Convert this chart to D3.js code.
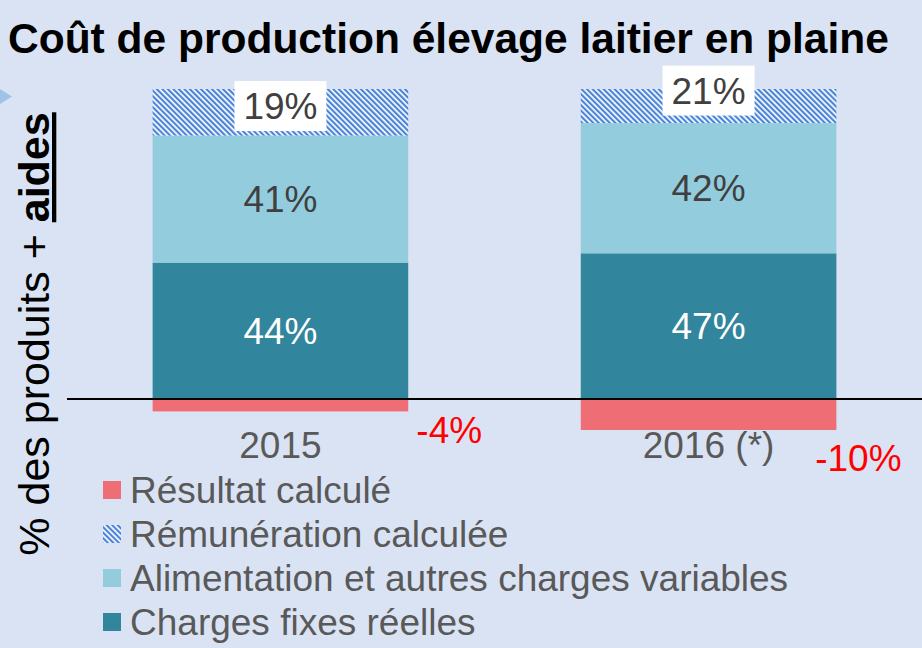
<!DOCTYPE html>
<html>
<head>
<meta charset="utf-8">
<script src="https://cdn.jsdelivr.net/npm/d3@7"></script>
<style>
  body { margin: 0; background: #dae3f3; }
  svg { display: block; font-family: Arial, "Liberation Sans", sans-serif; }
</style>
</head>
<body>
<svg id="chart"></svg>
<script>
// data
let categories = ["2015", "2016 (*)"];
let chargesFixes = [44, 47];
let alimentation = [41, 42];
let remuneration = [19, 21];
let resultat = [-4, -10];

let seriesNames = ["Résultat calculé", "Rémunération calculée", "Alimentation et autres charges variables", "Charges fixes réelles"];

function drawChart() {
    let w = 922, h = 648;
    let svg = d3.select("#chart").attr("width", w).attr("height", h);

    svg.append("rect").attr("width", w).attr("height", h).attr("fill", "#dae3f3");

    let defs = svg.append("defs");
    let pat = defs.append("pattern")
        .attr("id", "hatch")
        .attr("patternUnits", "userSpaceOnUse")
        .attr("width", 3.9).attr("height", 3.9)
        .attr("patternTransform", "rotate(-45)");
    pat.append("rect").attr("width", 3.9).attr("height", 3.9).attr("fill", "#ffffff");
    pat.append("rect").attr("width", 2.2).attr("height", 3.9).attr("fill", "#4a84d8");

    defs.append("clipPath").attr("id", "plotClip")
        .append("rect").attr("x", 0).attr("y", 89).attr("width", w).attr("height", h - 89);

    // title
    svg.append("text")
        .attr("x", 8).attr("y", 53)
        .attr("font-size", 42.5).attr("font-weight", "bold").attr("fill", "#000")
        .text("Coût de production élevage laitier en plaine");

    // small marker top left
    svg.append("path").attr("d", "M0,89 L12,96.5 L0,104 Z").attr("fill", "#9dc3e6");

    let x = d3.scaleBand().domain(categories).range([67, 922])
        .paddingInner(0.403).paddingOuter(0.2);
    let y = d3.scaleLinear().domain([0, 100]).range([399, 89]);

    // stacked segments
    let rows = categories.map((c, i) => ({
        cat: c, fixes: chargesFixes[i], alim: alimentation[i], remu: remuneration[i], res: resultat[i]
    }));
    let stack = d3.stack().keys(["fixes", "alim", "remu"]);
    let layers = stack(rows);
    let fills = { fixes: "#31859c", alim: "#93cddd", remu: "url(#hatch)" };

    let g = svg.append("g").attr("clip-path", "url(#plotClip)");
    layers.forEach(layer => {
        g.selectAll(null)
            .data(layer)
            .enter()
            .append("rect")
            .attr("x", d => x(d.data.cat))
            .attr("y", d => y(d[1]))
            .attr("width", x.bandwidth())
            .attr("height", d => y(d[0]) - y(d[1]))
            .attr("fill", fills[layer.key]);
    });

    // negative result
    svg.selectAll(".neg")
        .data(rows)
        .enter()
        .append("rect")
        .attr("x", d => x(d.cat))
        .attr("y", y(0))
        .attr("width", x.bandwidth())
        .attr("height", d => y(d.res) - y(0))
        .attr("fill", "#ef6d74");

    // zero line
    svg.append("line")
        .attr("x1", 67).attr("x2", 922)
        .attr("y1", y(0)).attr("y2", y(0))
        .attr("stroke", "#000").attr("stroke-width", 1.8);

    // segment labels
    layers.forEach(layer => {
        let lbl = svg.selectAll(null)
            .data(layer)
            .enter()
            .append("g")
            .attr("transform", d => `translate(${x(d.data.cat) + x.bandwidth() / 2},${(y(d[0]) + y(d[1])) / 2})`);
        if (layer.key === "remu") {
            lbl.append("rect")
                .attr("x", -46).attr("y", -25)
                .attr("width", 92).attr("height", 50)
                .attr("fill", "#fff");
        }
        lbl.append("text")
            .attr("text-anchor", "middle")
            .attr("dy", 13)
            .attr("font-size", 37)
            .attr("fill", layer.key === "fixes" ? "#ffffff" : "#404040")
            .text(d => (d[1] - d[0]) + "%");
    });

    // negative labels
    svg.selectAll(".negLabel")
        .data(rows)
        .enter()
        .append("text")
        .attr("x", (d, i) => x(d.cat) + x.bandwidth() + (i === 0 ? 41 : 22))
        .attr("y", d => y(d.res) + (d.res > -5 ? 32 : 41))
        .attr("text-anchor", "middle")
        .attr("font-size", 37)
        .attr("fill", "#ff0000")
        .text(d => d.res + "%");

    // category axis
    let xAxis = svg.append("g")
        .attr("transform", "translate(0,418)")
        .call(d3.axisBottom(x).tickSize(0).tickPadding(0));
    xAxis.select(".domain").remove();
    xAxis.selectAll("text")
        .attr("font-size", 37)
        .attr("font-family", "Arial, 'Liberation Sans', sans-serif")
        .attr("fill", "#595959")
        .attr("dy", "1.08em");

    // y label
    let yl = svg.append("text")
        .attr("transform", "translate(49,334) rotate(-90)")
        .attr("text-anchor", "middle")
        .attr("font-size", 43)
        .attr("fill", "#000");
    yl.append("tspan").text("% des produits + ");
    yl.append("tspan").attr("font-weight", "bold").attr("text-decoration", "underline").text("aides");

    // legend
    let legFills = ["#ef6d74", "url(#hatch)", "#93cddd", "#31859c"];
    let leg = svg.selectAll(".leg")
        .data(seriesNames)
        .enter()
        .append("g")
        .attr("transform", (d, i) => `translate(103,${490 + i * 44})`);
    leg.append("rect")
        .attr("x", 0).attr("y", -9)
        .attr("width", 18).attr("height", 18)
        .attr("fill", (d, i) => legFills[i]);
    leg.append("text")
        .attr("x", 27).attr("y", 13)
        .attr("font-size", 37)
        .attr("fill", "#595959")
        .text(d => d);
}

window.onload = function() {
    drawChart();
}
</script>
</body>
</html>
